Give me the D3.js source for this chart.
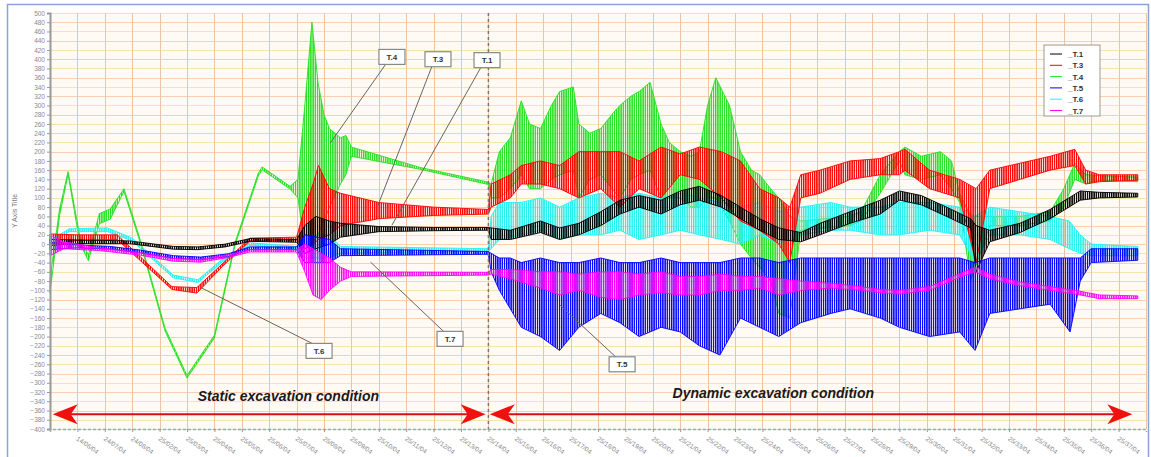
<!DOCTYPE html>
<html>
<head>
<meta charset="utf-8">
<script src="https://cdn.jsdelivr.net/npm/d3@7"></script>
<style>
  body { margin: 0; background: #fff; }
  text { font-family: "Liberation Sans", Arial, sans-serif; }
</style>
</head>
<body>
<svg id="chart" width="1151" height="457"></svg>
<script>
// each reading: [time index, low, high] (envelope of the signal)
var t1 = [[0,-3,10],[1,1,9],[2.9,1,7],[4.5,-11,-5],[5.4,-12,-6],[6.4,-6,0],[7.3,6,12],[9,4,10],[9.3,-20,40],[9.7,-10,60],[10.2,0,50],[10.6,15,45],[12,27,38],[14,29,36],[16,30,36],
  [16.1,10,35],[16.8,10,30],[17.9,25,50],[18.6,10,35],[19.3,20,45],[20.1,40,70],[20.8,65,95],[21.5,80,105],[22.3,65,95],[23,85,115],[23.7,95,125],[24.5,80,105],[25.2,55,80],[25.9,30,55],[26.6,10,35],[27.4,5,25],[28.1,20,45],[29.2,45,70],[30.3,65,95],[31,95,115],[31.8,85,105],[32.9,55,75],[33.6,35,55],[33.8,-60,40],[34.3,5,30],[35.4,25,45],[36.5,55,75],[37.6,95,115],[38.3,100,112],[39.7,102,110]];
var t3 = [[0,0,22],[1,8,20],[2.45,10,20],[4.45,-98,-92],[5.36,-106,-94],[6.3,-48,-42],[7.3,7,13],[9,9,15],[9.3,-10,80],[9.6,0,130],[9.8,10,170],[10.2,20,120],[10.6,40,110],[12,55,90],[14,62,80],[16,65,75],
  [16.1,80,130],[16.8,100,150],[17.2,130,170],[17.9,130,180],[18.6,120,170],[19.3,100,200],[20.1,120,200],[20.8,80,200],[21.5,120,180],[22.3,100,210],[23,150,195],[23.7,140,210],[24.5,100,200],[25.2,50,180],[25.9,30,120],[26.6,0,100],[27,-40,80],[27.4,100,150],[28.1,110,160],[29.2,140,180],[30.3,150,185],[31,150,200],[31.2,160,205],[32.1,120,160],[33.2,100,140],[33.8,-40,120],[34.3,120,160],[35.4,140,175],[36.5,160,190],[37.4,170,205],[37.8,130,160],[38.3,135,150],[39.7,138,150]];
var t4 = [[0,-105,-75],[0.35,62,76],[0.66,151,157],[1.09,2,16],[1.4,-36,-24],[1.8,44,66],[2.2,54,76],[2.7,114,120],[3.3,2,8],[4.2,-188,-182],[5.0,-290,-284],[6.0,-203,-197],[6.75,-3,3],[7.6,147,153],[7.74,161,167],[8.76,119,125],[9.05,100,140],[9.3,-10,300],[9.56,0,480],[9.78,20,350],[10,50,280],[10.2,80,250],[10.6,130,230],[10.8,150,235],[11,190,210],[13.5,162,166],[16,129,134],
  [16.1,100,130],[16.4,100,200],[16.8,120,230],[17.2,150,310],[17.5,120,260],[17.9,120,250],[18.3,140,300],[18.6,150,330],[19.1,160,340],[19.3,100,260],[19.7,140,240],[20.1,150,250],[20.5,120,280],[20.8,100,300],[21.2,140,320],[21.5,150,330],[21.9,160,350],[22.3,100,260],[22.6,100,220],[23,100,200],[23.4,80,190],[23.7,80,200],[24,100,300],[24.3,100,360],[24.8,50,300],[25.2,0,200],[25.6,-30,160],[25.9,-50,150],[26.3,-80,120],[26.6,-150,100],[27,-160,60],[27.4,30,50],[29.2,40,60],[29.6,50,70],[30.3,110,150],[31,180,200],[31.2,150,210],[31.8,140,190],[32.5,150,200],[32.9,120,180],[33.2,90,110],[33.6,-80,60],[34.3,40,60],[35.4,40,60],[36.5,50,70],[37,80,120],[37.4,140,175],[37.8,130,150],[38.3,138,148],[39.7,135,145]];
var t5 = [[0,-12,4],[1,-8,-2],[2.2,-11,-5],[3.3,-19,-13],[4.5,-31,-25],[5.5,-34,-28],[6.5,-27,-21],[7.3,-12,-6],[9,-12,-6],[9.3,-40,20],[10.2,-40,10],[10.6,-25,-10],[16,-22,-16],
  [16.1,-60,-20],[16.4,-100,-30],[16.8,-140,-30],[17.2,-180,-40],[17.9,-200,-30],[18.6,-230,-40],[19.3,-180,-40],[20.1,-150,-30],[20.8,-170,-40],[21.5,-200,-40],[22.3,-180,-30],[23,-190,-40],[23.7,-220,-40],[24.45,-240,-40],[25.2,-160,-30],[25.9,-180,-30],[26.6,-200,-40],[27.4,-170,-30],[28.5,-150,-30],[29.2,-140,-30],[30.3,-160,-30],[31,-180,-30],[32.1,-200,-30],[33.2,-190,-30],[33.76,-230,-40],[34.3,-150,-30],[35.4,-140,-30],[36.5,-130,-30],[37.23,-190,-30],[37.6,-80,-30],[38,-40,-10],[39.7,-35,-10]];
var t6 = [[0,-3,8],[0.7,27,33],[2.1,27,35],[3.0,7,13],[4.5,-73,-67],[5.4,-83,-77],[6.3,-38,-32],[7.3,-3,3],[9,-10,-5],[9.3,-30,20],[10.2,-30,20],[10.6,-20,-5],[16,-16,-10],
  [16.1,-10,60],[16.4,10,90],[17.2,20,90],[17.9,30,100],[18.6,10,80],[19.3,20,100],[20.1,20,110],[20.8,30,100],[21.5,10,110],[22.3,20,100],[23,30,110],[23.7,20,100],[24.5,10,90],[25.2,0,80],[25.9,20,90],[26.6,0,70],[27.4,20,80],[28.5,30,90],[29.2,30,80],[30.3,20,80],[31,20,90],[32.1,30,90],[33.2,20,80],[33.76,-40,60],[34.3,20,80],[35.4,20,70],[36.5,10,60],[37.2,-10,50],[37.6,-20,20],[38,-25,0],[39.7,-25,-5]];
var t7 = [[0,-25,20],[0.5,-10,5],[1.8,-14,-8],[3.3,-24,-18],[4.5,-37,-31],[5.5,-39,-33],[6.5,-29,-23],[7.3,-17,-12],[9,-17,-12],[9.3,-60,0],[9.6,-110,-10],[9.9,-120,-20],[10.2,-100,-30],[10.6,-80,-50],[11,-70,-60],[16,-67,-61],
  [16.1,-65,-55],[16.8,-75,-55],[17.9,-95,-60],[18.6,-110,-60],[19.3,-100,-65],[20.1,-115,-60],[20.8,-120,-60],[21.5,-110,-65],[22.3,-105,-60],[23,-110,-70],[23.7,-110,-70],[24.5,-100,-65],[25.2,-100,-70],[25.9,-95,-70],[26.6,-110,-75],[27.4,-100,-80],[28.5,-95,-85],[29.6,-100,-92],[30.3,-105,-98],[31,-108,-100],[32.1,-100,-92],[33.2,-72,-64],[33.76,-60,-50],[34.3,-75,-65],[35.4,-90,-82],[36.5,-100,-92],[37.6,-110,-102],[38.3,-118,-110],[39.7,-118,-112]];

var seriesNames = ["_T.1", "_T.3", "_T.4", "_T.5", "_T.6", "_T.7"];
var seriesColors = ["#000000", "#ff0000", "#22e022", "#0000ff", "#22f0f0", "#ff00ff"];
var seriesData = [t1, t3, t4, t5, t6, t7];
var drawOrder = [2, 4, 1, 0, 3, 5];

var xLabels = ["14/06/04","24/07/04","24/08/04","25/02/04","25/03/04","25/04/04","25/05/04","25/06/04","25/07/04","25/08/04",
  "25/09/04","25/10/04","25/11/04","25/12/04","25/13/04","25/14/04","25/15/04","25/16/04","25/17/04","25/18/04",
  "25/19/04","25/20/04","25/21/04","25/22/04","25/23/04","25/24/04","25/25/04","25/26/04","25/27/04","25/28/04",
  "25/29/04","25/30/04","25/31/04","25/32/04","25/33/04","25/34/04","25/35/04","25/36/04","25/37/04"];

// callouts: [label, box t, box value, target t, target value]
var callouts = [["T.4",12.48,405,10.22,218],["T.3",14.16,400,11.97,84],["T.1",15.95,398,12.48,41],
  ["T.6",9.82,-231,5.47,-93],["T.7",14.6,-205,11.7,-39],["T.5",20.88,-260,18.61,-132]];

var svg = d3.select("#chart");
var pL = 50, pR = 1146, pT = 13, pB = 429;
var x = d3.scaleLinear().domain([0, 40]).range([pL, pR]);
var y = d3.scaleLinear().domain([-400, 500]).range([pB, pT]);

// hatch patterns so the dense signal reads as spikes, not a solid block
var defs = svg.append("defs")
seriesColors.forEach(function (c, i) {
  var p = defs.append("pattern").attr("id", "hatch" + i)
    .attr("patternUnits", "userSpaceOnUse").attr("width", 2.2).attr("height", 4)
  p.append("rect").attr("width", 1.4).attr("height", 4).attr("fill", c)
})

// frame
svg.append("rect").attr("x", 7.5).attr("y", 4.5).attr("width", 1141).attr("height", 460)
  .attr("fill", "#ffffff").attr("stroke", "#8aa4d6").attr("stroke-width", 1.5)
svg.append("rect").attr("x", pL).attr("y", pT).attr("width", pR - pL).attr("height", pB - pT)
  .attr("fill", "#fffaf4")

// grid
svg.append("g").selectAll("line").data(d3.range(-400, 501, 20)).enter().append("line")
  .attr("x1", pL).attr("x2", pR)
  .attr("y1", function (d) { return Math.round(y(d)) + 0.5 }).attr("y2", function (d) { return Math.round(y(d)) + 0.5 })
  .attr("stroke", function (d) { return d % 40 == 0 ? "#f8cfb0" : "#f3e4b0" })
  .attr("stroke-width", 1)
svg.append("g").selectAll("line").data(d3.range(1, 41)).enter().append("line")
  .attr("x1", function (d) { return Math.round(x(d)) + 0.5 }).attr("x2", function (d) { return Math.round(x(d)) + 0.5 })
  .attr("y1", pT).attr("y2", pB)
  .attr("stroke", "#efc4a2").attr("stroke-width", 1)

// signals as envelopes
var area = d3.area()
  .x(function (d) { return x(d[0]) })
  .y0(function (d) { return y(d[1]) })
  .y1(function (d) { return y(d[2]) })

drawOrder.forEach(function (i) {
  svg.append("path")
    .datum(seriesData[i])
    .attr("d", area)
    .attr("fill", "url(#hatch" + i + ")")
    .attr("stroke", seriesColors[i])
    .attr("stroke-width", 0.9)
    .attr("stroke-linejoin", "round")
})

// divider between the two conditions
svg.append("line").attr("x1", x(16)).attr("x2", x(16)).attr("y1", pT).attr("y2", pB)
  .attr("stroke", "#777").attr("stroke-width", 1.5).attr("stroke-dasharray", "3,3")

// axes
var yAxis = svg.append("g").attr("transform", "translate(" + pL + ",0)")
  .call(d3.axisLeft(y).tickValues(d3.range(-400, 501, 20)).tickSize(3).tickPadding(2))
yAxis.select(".domain").attr("stroke", "#999").attr("stroke-width", 2)
yAxis.selectAll(".tick line").attr("stroke", "#999")
yAxis.selectAll("text").attr("fill", "#8a8a8a").style("font-size", "6.5px")

var xAxis = svg.append("g").attr("transform", "translate(0," + pB + ")")
  .call(d3.axisBottom(x).tickValues(d3.range(1, 40)).tickSize(3)
    .tickFormat(function (d) { return xLabels[d - 1] }))
xAxis.select(".domain").attr("stroke", "#8fb0b0").attr("stroke-width", 1.5).attr("stroke-dasharray", "3,2")
xAxis.selectAll(".tick line").attr("stroke", "#999")
xAxis.selectAll("text")
  .attr("fill", "#8a8a8a").style("font-size", "6.5px")
  .attr("text-anchor", "start")
  .attr("transform", "translate(4,2) rotate(35)")

svg.append("text").attr("transform", "translate(17,211) rotate(-90)")
  .attr("text-anchor", "middle").attr("fill", "#777").style("font-size", "7px")
  .text("Y Axis Title")

// callouts
callouts.forEach(function (c) {
  var bx = x(c[1]), by = y(c[2])
  svg.append("line").attr("x1", bx - 6).attr("y1", by + (c[2] > c[4] ? 7 : -7))
    .attr("x2", x(c[3])).attr("y2", y(c[4]))
    .attr("stroke", "#666").attr("stroke-width", 1)
  svg.append("rect").attr("x", bx - 13).attr("y", by - 7.5).attr("width", 26).attr("height", 15)
    .attr("fill", "#fff").attr("stroke", "#888").attr("stroke-width", 1.2)
  svg.append("text").attr("x", bx).attr("y", by + 3).attr("text-anchor", "middle")
    .attr("fill", "#333").style("font-size", "8px").style("font-weight", "bold")
    .text(c[0])
})

// condition arrows
function arrowHead(tipX, yy, dir) {
  var p = [[tipX, yy], [tipX + dir * 25, yy - 10], [tipX + dir * 18, yy], [tipX + dir * 25, yy + 10]]
  svg.append("path").attr("d", "M" + p.join("L") + "Z").attr("fill", "#f01010")
}
var arrowY = y(-368)
var spans = [[0.1, 15.9, "Static excavation condition", 8.7, -340], [16.05, 39.5, "Dynamic excavation condition", 26.4, -332]]
spans.forEach(function (s) {
  svg.append("line").attr("x1", x(s[0]) + 15).attr("x2", x(s[1]) - 15).attr("y1", arrowY).attr("y2", arrowY)
    .attr("stroke", "#d81010").attr("stroke-width", 2)
  arrowHead(x(s[0]), arrowY, 1)
  arrowHead(x(s[1]), arrowY, -1)
  svg.append("text").attr("x", x(s[3])).attr("y", y(s[4])).attr("text-anchor", "middle")
    .attr("fill", "#1a1a1a").style("font-size", "14px").style("font-weight", "bold").style("font-style", "italic")
    .text(s[2])
})

// legend
var legend = svg.append("g").attr("transform", "translate(1044,45)")
legend.append("rect").attr("width", 56).attr("height", 71).attr("fill", "#fff").attr("stroke", "#999")
seriesNames.forEach(function (n, i) {
  legend.append("line").attr("x1", 6).attr("x2", 18).attr("y1", 9 + i * 11.3).attr("y2", 9 + i * 11.3)
    .attr("stroke", seriesColors[i]).attr("stroke-width", 1)
  legend.append("text").attr("x", 24).attr("y", 12 + i * 11.3).attr("fill", "#333")
    .style("font-size", "8px").style("font-weight", "bold").text(n)
})
</script>
</body>
</html>
